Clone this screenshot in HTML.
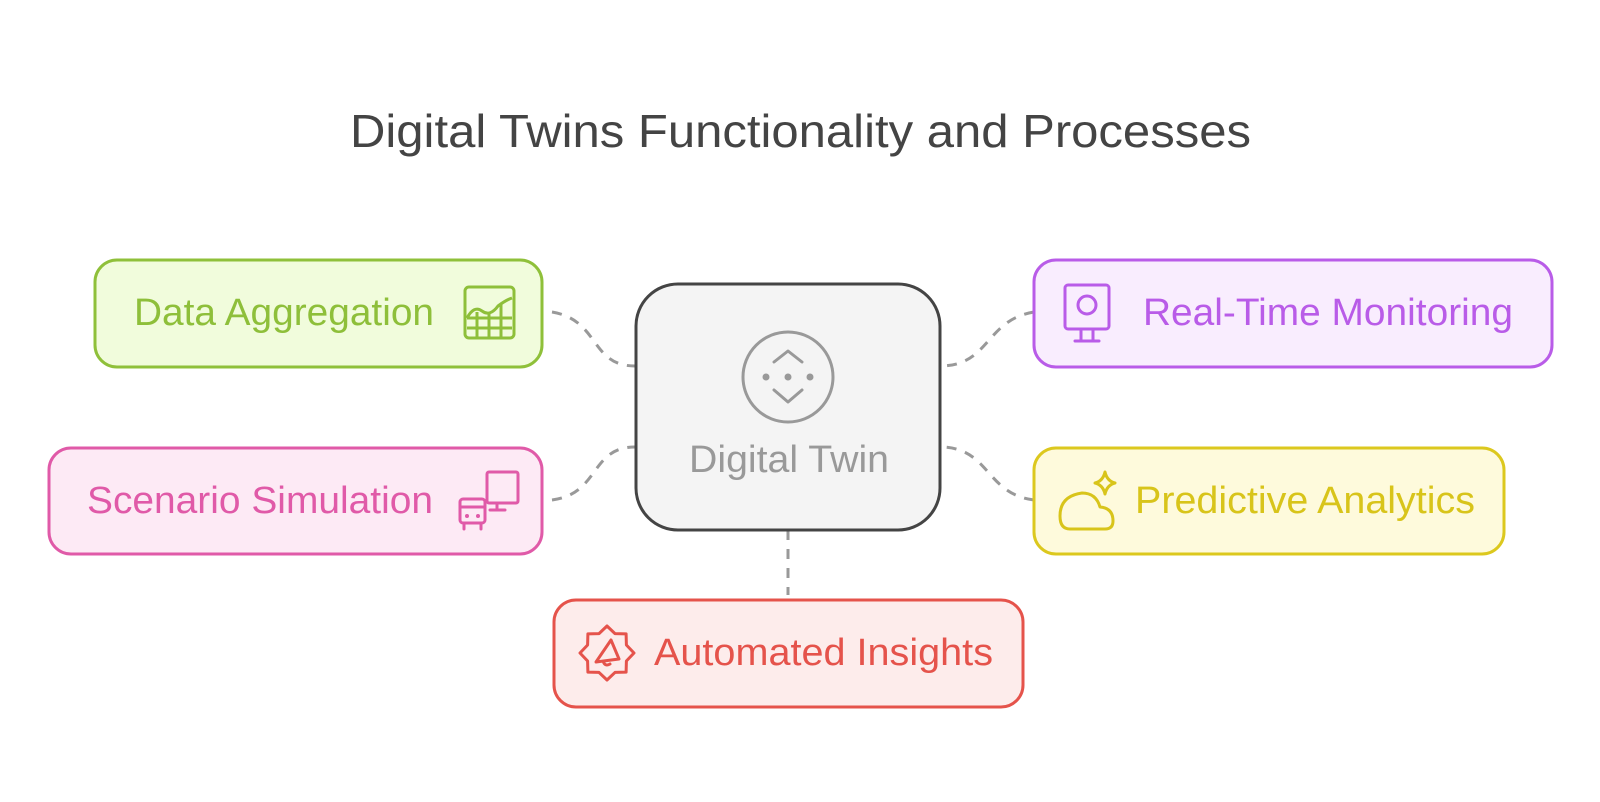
<!DOCTYPE html>
<html><head><meta charset="utf-8"><style>
html,body{margin:0;padding:0;background:#fff;}
svg{display:block;}
text{font-family:"Liberation Sans",Arial,sans-serif;}
</style></head><body>
<svg width="1600" height="802" viewBox="0 0 1600 802" xmlns="http://www.w3.org/2000/svg">
<text x="350" y="147" font-size="46" fill="#444" textLength="901" lengthAdjust="spacingAndGlyphs">Digital Twins Functionality and Processes</text>

<!-- connectors -->
<g fill="none" stroke="#999" stroke-width="3" stroke-dasharray="10,9">
<path d="M552 312 C600 320, 590 366, 635 366"/>
<path d="M552 500 C600 494, 590 447, 635 447"/>
<path d="M1034 312 C985 320, 990 366, 940 366"/>
<path d="M1034 500 C985 494, 990 447, 940 447"/>
<path d="M788 530 L788 595"/>
</g>

<!-- center -->
<rect x="636" y="284" width="304" height="246" rx="42" fill="#f4f4f4" stroke="#444" stroke-width="3"/>
<circle cx="788" cy="377" r="45" fill="none" stroke="#999" stroke-width="3"/>
<g fill="none" stroke="#999" stroke-width="3" stroke-linecap="round" stroke-linejoin="round">
<path d="M774 362 L788 351 L802 362"/><path d="M774 390 L788 402 L802 390"/>
</g>
<g fill="#999"><circle cx="766" cy="377" r="3.5"/><circle cx="788" cy="377" r="3.5"/><circle cx="810" cy="377" r="3.5"/></g>
<text x="689" y="472" font-size="38" fill="#999" textLength="200" lengthAdjust="spacingAndGlyphs">Digital Twin</text>

<!-- Data Aggregation -->
<rect x="95" y="260" width="447" height="107" rx="22" fill="#f1fcdc" stroke="#8fc03a" stroke-width="3"/>
<text x="134" y="325" font-size="38" fill="#8ebf3a" textLength="300" lengthAdjust="spacingAndGlyphs">Data Aggregation</text>
<g fill="none" stroke="#8ebf3a" stroke-width="3" stroke-linejoin="round">
<rect x="465" y="287" width="49" height="51" rx="4"/>
<path d="M467 318 Q474 305 482 311 T498 306 Q506 300 512 298"/>
<path d="M467 318 H512 M467 328 H512 M477 312 V338 M489 312 V338 M501 304 V338"/>
</g>

<!-- Scenario Simulation -->
<rect x="49" y="448" width="493" height="106" rx="22" fill="#fdeaf5" stroke="#e05aa8" stroke-width="3"/>
<text x="87" y="513" font-size="38" fill="#e05aa8" textLength="346" lengthAdjust="spacingAndGlyphs">Scenario Simulation</text>
<g fill="none" stroke="#e05aa8" stroke-width="3" stroke-linejoin="round" stroke-linecap="round">
<rect x="487" y="472" width="31" height="31" rx="2"/>
<path d="M497 504 V510 M490 510 H505"/>
<rect x="460" y="499" width="25" height="24" rx="3"/>
<path d="M460 507 H485 M464 523 V529 M481 523 V529"/>
</g>
<g fill="#e05aa8"><circle cx="467" cy="516" r="2"/><circle cx="478" cy="516" r="2"/></g>

<!-- Real-Time Monitoring -->
<rect x="1034" y="260" width="518" height="107" rx="22" fill="#f9edfe" stroke="#b95ce8" stroke-width="3"/>
<text x="1143" y="325" font-size="38" fill="#b95ce8" textLength="370" lengthAdjust="spacingAndGlyphs">Real-Time Monitoring</text>
<g fill="none" stroke="#b95ce8" stroke-width="3" stroke-linejoin="round" stroke-linecap="round">
<rect x="1065" y="285" width="44" height="44" rx="3"/>
<circle cx="1087" cy="305" r="9"/>
<path d="M1081 329 V341 M1093 329 V341 M1075 341 H1099"/>
</g>

<!-- Predictive Analytics -->
<rect x="1034" y="448" width="470" height="106" rx="22" fill="#fefadc" stroke="#dcc81e" stroke-width="3"/>
<text x="1135" y="513" font-size="38" fill="#d8c41a" textLength="340" lengthAdjust="spacingAndGlyphs">Predictive Analytics</text>
<g fill="none" stroke="#d8c41a" stroke-width="3" stroke-linejoin="round" stroke-linecap="round">
<path d="M1070 529 H1105 Q1113 529 1113 521 Q1113 508 1100 507 Q1096 493 1082 493 Q1060 496 1060 516 Q1060 529 1070 529 Z"/>
<path d="M1105 472 Q1107 481 1115 483 Q1107 485 1105 494 Q1103 485 1095 483 Q1103 481 1105 472 Z"/>
</g>

<!-- Automated Insights -->
<rect x="554" y="600" width="469" height="107" rx="22" fill="#fdeceb" stroke="#e5534b" stroke-width="3"/>
<text x="654" y="665" font-size="38" fill="#e5534b" textLength="339" lengthAdjust="spacingAndGlyphs">Automated Insights</text>
<g fill="none" stroke="#e5534b" stroke-width="3" stroke-linejoin="round" stroke-linecap="round">
<polygon points="634,653 626.4,661 626.1,672.1 615,672.4 607,680 599,672.4 587.9,672.1 587.6,661 580,653 587.6,645 587.9,633.9 599,633.6 607,626 615,633.6 626.1,633.9 626.4,645"/>
<path d="M596 662 L611 640 L619 659 Z M603 661 Q605 667 610 664"/>
</g>
</svg>
</body></html>
